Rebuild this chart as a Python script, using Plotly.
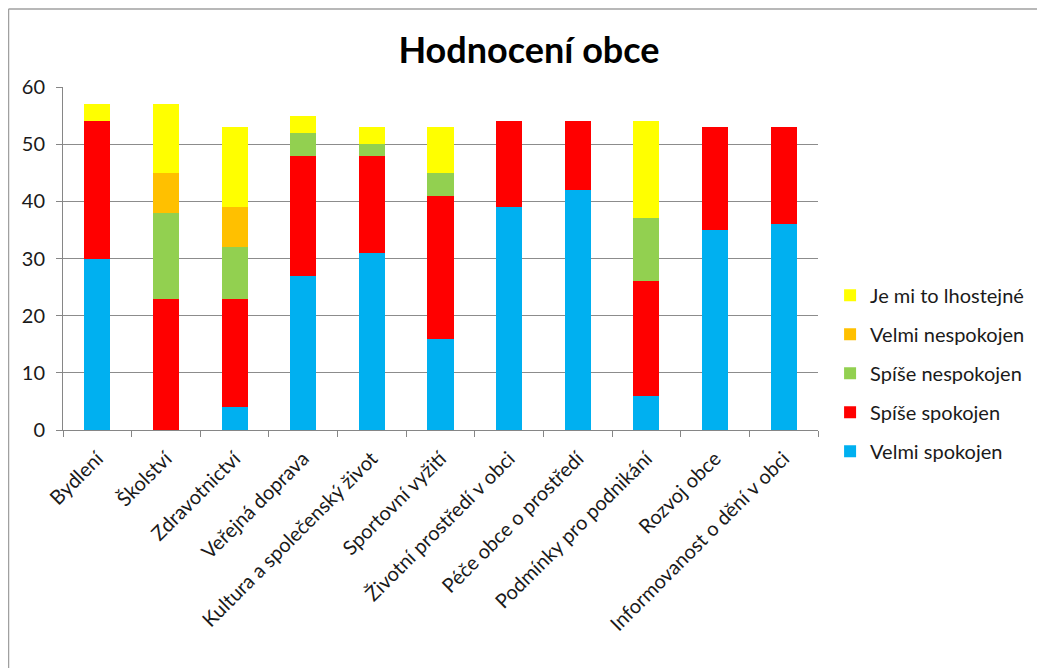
import plotly.graph_objects as go

categories = ["Bydlení", "Školství", "Zdravotnictví", "Veřejná doprava",
              "Kultura a společenský život", "Sportovní vyžití",
              "Životní prostředí v obci", "Péče obce o prostředí",
              "Podmínky pro podnikání", "Rozvoj obce",
              "Informovanost o dění v obci"]

velmi_spokojen = [30, 0, 4, 27, 31, 16, 39, 42, 6, 35, 36]
spise_spokojen = [24, 23, 19, 21, 17, 25, 15, 12, 20, 18, 17]
spise_nespokojen = [0, 15, 9, 4, 2, 4, 0, 0, 11, 0, 0]
velmi_nespokojen = [0, 7, 7, 0, 0, 0, 0, 0, 0, 0, 0]
lhostejne = [3, 12, 14, 3, 3, 8, 0, 0, 17, 0, 0]

series = [
    ("Velmi spokojen", velmi_spokojen, "#00B0F0", 5),
    ("Spíše spokojen", spise_spokojen, "#FF0000", 4),
    ("Spíše nespokojen", spise_nespokojen, "#92D050", 3),
    ("Velmi nespokojen", velmi_nespokojen, "#FFC000", 2),
    ("Je mi to lhostejné", lhostejne, "#FFFF00", 1),
]

fig = go.Figure()
for name, vals, col, rank in series:
    fig.add_trace(go.Bar(x=categories, y=vals, name=name, marker_color=col,
                         marker_line_width=0, legendgroup=name, legendrank=rank,
                         width=0.38))

font = "Lato, Open Sans, DejaVu Sans, sans-serif"
W, H = 1037, 660
L, T, PW, PH = 55, 79, 755, 343
fig.update_layout(
    width=W, height=H,
    barmode="stack",
    plot_bgcolor="white", paper_bgcolor="white",
    margin=dict(l=L, r=W - L - PW, t=T, b=H - T - PH, autoexpand=False),
    title=dict(text="<b>Hodnocení obce</b>", x=521 / W, xanchor="center",
               y=1 - 42 / H, yanchor="middle",
               font=dict(family=font, size=36, color="black")),
    font=dict(family=font, size=20, color="black"),
    showlegend=True,
    legend=dict(x=1.016, xanchor="left", y=0.45, yanchor="top",
                traceorder="grouped", tracegroupgap=10,
                font=dict(family=font, size=20, color="#1a1a1a"),
                itemwidth=30),
    xaxis=dict(tickangle=-45, showline=True, linecolor="#868686", linewidth=1,
               ticks="outside", ticklen=6, tickcolor="#868686", tickson="boundaries",
               ticklabelstandoff=8,
               tickfont=dict(family=font, size=20, color="#1a1a1a"), automargin=False),
    yaxis=dict(range=[0, 60], dtick=10, showgrid=True, gridcolor="#8C8C8C", gridwidth=1,
               showline=True, linecolor="#868686", linewidth=1, ticks="outside",
               ticklen=6, tickcolor="#868686", zeroline=False, automargin=False,
               ticklabelstandoff=7,
               tickfont=dict(family=font, size=20, color="#1a1a1a")),
    shapes=[
        dict(type="line", xref="paper", yref="paper", x0=(0.5 - L) / PW, x1=1.35,
             y0=(T + PH - 1) / PH, y1=(T + PH - 1) / PH,
             line=dict(color="#A0A0A0", width=1.5)),
        dict(type="line", xref="paper", yref="paper", x0=(0.5 - L) / PW, x1=(0.5 - L) / PW,
             y0=(T + PH - 1) / PH, y1=-0.75, line=dict(color="#A0A0A0", width=1.5)),
    ],
)

fig.write_html("out.html")
